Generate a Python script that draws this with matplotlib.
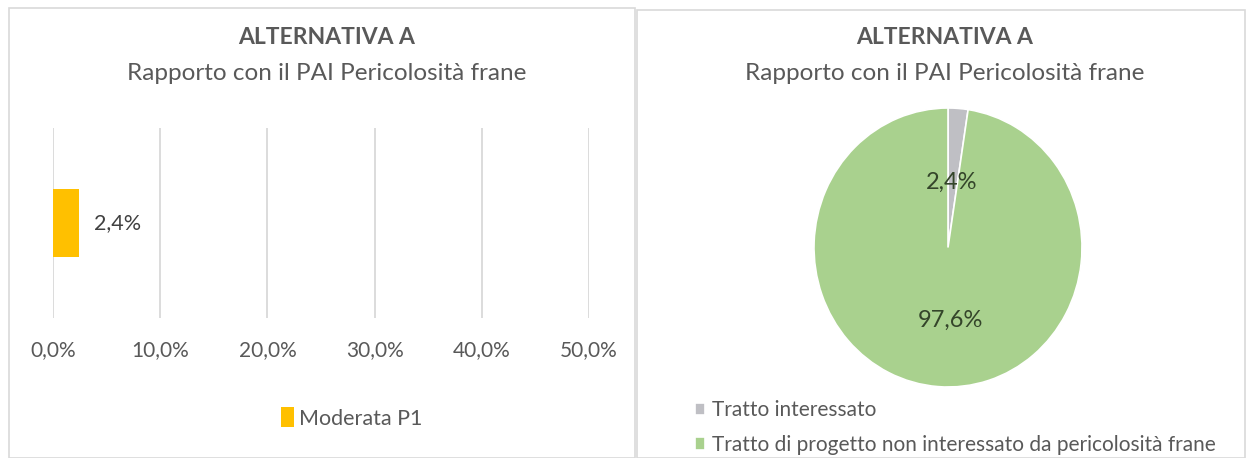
import matplotlib.pyplot as plt
from matplotlib.patches import Rectangle

plt.rcParams['font.family'] = ['Lato', 'DejaVu Sans']

# Dati
titolo = 'ALTERNATIVA A'
sottotitolo = 'Rapporto con il PAI Pericolosità frane'

categorie_barre = ['Moderata P1']
valori_barre = [2.4]
tick_barre = [0, 10, 20, 30, 40, 50]

etichette_torta = ['Tratto interessato',
                   'Tratto di progetto non interessato da pericolosità frane']
valori_torta = [2.4, 97.6]

colore_testo = '#595959'
colore_barra = '#FFC000'
colori_torta = ['#BFBFC4', '#A9D18E']


def fmt(v):
    return f'{v:.1f}'.replace('.', ',') + '%'


W, H = 1246, 458
fig = plt.figure(figsize=(W / 100, H / 100), dpi=100)

# cornici dei due grafici
for (x0, y0, x1) in [(9, 8, 635), (637, 10, 1245)]:
    fig.patches.append(Rectangle((x0 / W, 0), (x1 - x0) / W, 1 - y0 / H,
                                 transform=fig.transFigure, fill=False,
                                 edgecolor='#D9D9D9', linewidth=1.2))

# titoli
for cx in [327, 945]:
    fig.text(cx / W, 1 - 38 / H, titolo, ha='center', va='center',
             fontsize=16.5, fontweight='bold', color=colore_testo)
    fig.text(cx / W, 1 - 74 / H, sottotitolo, ha='center', va='center',
             fontsize=17.5, color=colore_testo)

# === grafico a barre ===
ax = fig.add_axes([53 / W, 1 - 318 / H, (589 - 53) / W, (318 - 128) / H])
ax.barh([0], valori_barre, height=0.36, color=colore_barra,
        label=categorie_barre[0], zorder=2)
ax.set_xlim(0, 50)
ax.set_ylim(-0.5, 0.5)
ax.set_xticks(tick_barre)
ax.set_xticklabels([fmt(t) for t in tick_barre], fontsize=15, color=colore_testo)
ax.set_yticks([])
ax.grid(axis='x', color='#D9D9D9', linewidth=1.3, zorder=0)
ax.tick_params(axis='x', length=0, pad=16)
for s in ax.spines.values():
    s.set_visible(False)
for v in valori_barre:
    ax.text(v + 1.4, 0, fmt(v), va='center', ha='left', fontsize=15.5, color='#404040')
ax.legend(loc='center', bbox_to_anchor=(352 / W, 1 - 418 / H),
          bbox_transform=fig.transFigure, frameon=False, fontsize=15.5,
          labelcolor=colore_testo, handlelength=0.6, handleheight=1.0,
          handletextpad=0.25)

# === grafico a torta ===
ax2 = fig.add_axes([(948 - 134) / W, 1 - 387 / H, 268 / W, 279 / H])
spicchi, _ = ax2.pie(valori_torta, colors=colori_torta, startangle=90,
                     counterclock=False,
                     wedgeprops=dict(edgecolor='white', linewidth=1.2))
ax2.set_aspect('auto')
ax2.set_xlim(-1, 1)
ax2.set_ylim(-1, 1)
ax2.text(0.03, 0.465, fmt(valori_torta[0]), ha='center', va='center',
         fontsize=17, color='#34452A')
ax2.text(0.02, -0.52, fmt(valori_torta[1]), ha='center', va='center',
         fontsize=17, color='#34452A')
fig.legend(spicchi, etichette_torta, loc='upper left',
           bbox_to_anchor=(691 / W, 1 - 396 / H), frameon=False,
           fontsize=15, labelcolor=colore_testo, handlelength=0.45,
           handleheight=0.55, handletextpad=0.35, labelspacing=0.7,
           borderaxespad=0, borderpad=0.2)

fig.savefig('out.png', dpi=100)
